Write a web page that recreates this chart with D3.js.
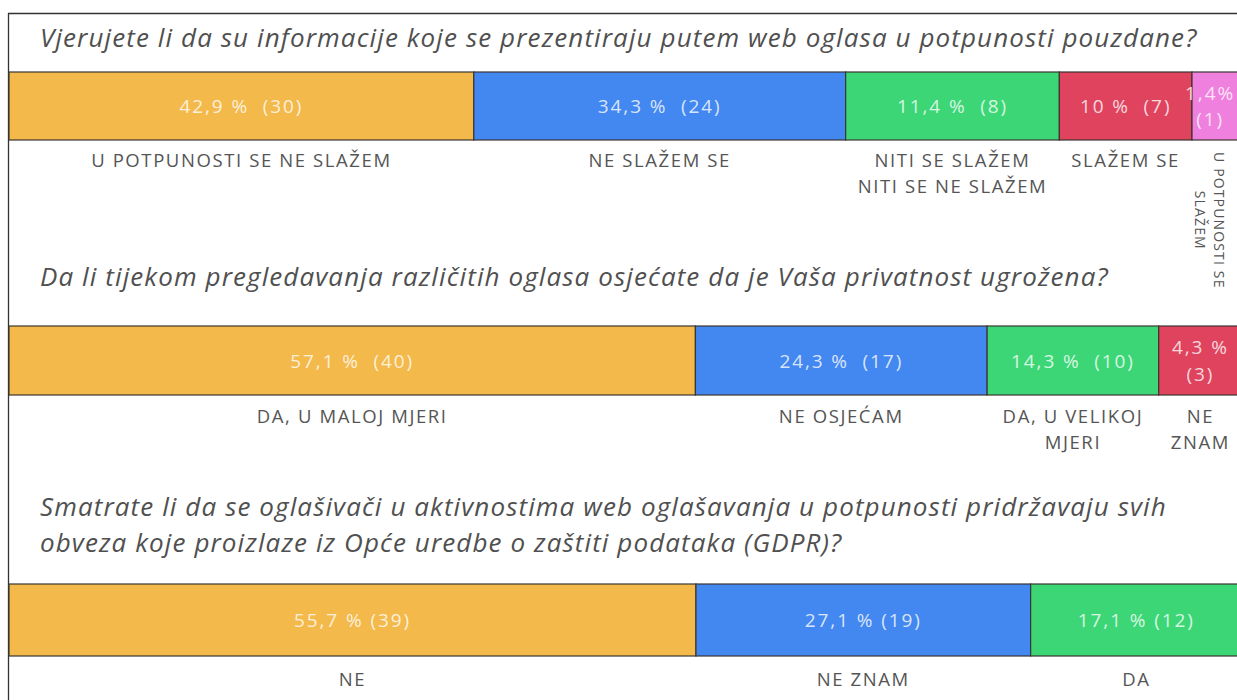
<!DOCTYPE html>
<html><head><meta charset="utf-8">
<script src="https://cdn.jsdelivr.net/npm/d3@7"></script>
<style>
html,body{margin:0;padding:0;background:#fff;overflow:hidden;}
svg{display:block;}
</style></head><body>
<svg id="chart" width="1237" height="700"></svg>
<script>
// ---------- DATA ----------
const q1Title = ["Vjerujete li da su informacije koje se prezentiraju putem web oglasa u potpunosti pouzdane?"];
const q1Categories = ["U POTPUNOSTI SE NE SLAŽEM", "NE SLAŽEM SE", "NITI SE SLAŽEM\nNITI SE NE SLAŽEM", "SLAŽEM SE", "U POTPUNOSTI SE\nSLAŽEM"];
const q1Percent = [42.9, 34.3, 11.4, 10, 1.4];
const q1Counts = [30, 24, 8, 7, 1];

const q2Title = ["Da li tijekom pregledavanja različitih oglasa osjećate da je Vaša privatnost ugrožena?"];
const q2Categories = ["DA, U MALOJ MJERI", "NE OSJEĆAM", "DA, U VELIKOJ\nMJERI", "NE\nZNAM"];
const q2Percent = [57.1, 24.3, 14.3, 4.3];
const q2Counts = [40, 17, 10, 3];

const q3Title = ["Smatrate li da se oglašivači u aktivnostima web oglašavanja u potpunosti pridržavaju svih", "obveza koje proizlaze iz Opće uredbe o zaštiti podataka (GDPR)?"];
const q3Categories = ["NE", "NE ZNAM", "DA"];
const q3Percent = [55.7, 27.1, 17.1];
const q3Counts = [39, 19, 12];

const palette = ["#F3B94B", "#4387F0", "#3CD677", "#E0435E", "#EF80DD"];

// ---------- LAYOUT ----------
const W = 1237, H = 700;
const left = 9, right = 1242;
const FONT = "'Open Sans', 'Noto Sans', sans-serif";
const svg = d3.select("#chart");

const panels = [
  {title: q1Title, cats: q1Categories, pct: q1Percent, cnt: q1Counts, titleY: 47, barTop: 72, barBottom: 140, labelY: 167, sep: "  "},
  {title: q2Title, cats: q2Categories, pct: q2Percent, cnt: q2Counts, titleY: 286, barTop: 326, barBottom: 395, labelY: 423, sep: "  "},
  {title: q3Title, cats: q3Categories, pct: q3Percent, cnt: q3Counts, titleY: 516, barTop: 584, barBottom: 656, labelY: 686, sep: " "}
];

const fmt = v => d3.format(".1~f")(v).replace(".", ",");

// frame lines
svg.append("line").attr("x1", 8).attr("x2", W).attr("y1", 13.5).attr("y2", 13.5)
  .attr("stroke", "#333").attr("stroke-width", 1.3);
svg.append("line").attr("x1", 8.5).attr("x2", 8.5).attr("y1", 13).attr("y2", H)
  .attr("stroke", "#333").attr("stroke-width", 1.3);

const measurer = svg.append("text").attr("visibility", "hidden").style("white-space", "pre");
function textWidth(str, size, spacing) {
  measurer.attr("font-family", FONT).attr("font-size", size)
    .attr("letter-spacing", spacing || 0).text(str);
  return measurer.node().getComputedTextLength();
}

const T_SIZE = 26, T_SP = 1.1, T_LH = 36;            // titles
const V_SIZE = 19, V_SP = 1.9, V_LH = 26.5;          // value labels
const C_SIZE = 18.5, C_SP = 1.6, C_LH = 25.5;        // category labels
const R_SIZE = 14, R_SP = 1.15, R_LH = 19.5;         // rotated labels
const PAD = 24;

panels.forEach(p => {
  const g = svg.append("g");
  // title lines
  p.title.forEach((t, i) => {
    g.append("text")
      .attr("x", 40).attr("y", p.titleY + i * T_LH)
      .attr("font-family", FONT).attr("font-style", "italic").attr("font-size", T_SIZE)
      .attr("letter-spacing", T_SP)
      .attr("fill", "#505050")
      .text(t);
  });

  const total = d3.sum(p.cnt);
  const x = d3.scaleLinear().domain([0, total]).range([left, right]);
  const starts = d3.cumsum([0].concat(p.cnt.slice(0, -1)));

  // proportional widths from the scale, then widen segments whose label would not fit
  const segs = p.cnt.map((c, i) => {
    const w = x(starts[i] + c) - x(starts[i]);
    const lines = p.cats[i].split("\n");
    const maxW = d3.max(lines, l => textWidth(l, C_SIZE, C_SP));
    const rotated = maxW > 2 * w;
    const minW = rotated ? lines.length * 16 + 18 : maxW + PAD;
    return {c, i, pct: p.pct[i], lines, maxW, rotated, w, minW};
  });
  const deficit = d3.sum(segs.filter(s => s.w < s.minW), s => s.minW - s.w);
  const donorTotal = d3.sum(segs.filter(s => s.w >= s.minW), s => s.w);
  segs.forEach(s => {
    s.fw = s.w < s.minW ? s.minW : s.w - deficit * s.w / donorTotal;
  });
  let acc = left;
  segs.forEach(s => { s.x0 = acc; acc += s.fw; s.x1 = acc; });

  // bars
  g.selectAll("rect.seg").data(segs).join("rect")
    .attr("class", "seg")
    .attr("x", d => d.x0).attr("width", d => d.x1 - d.x0)
    .attr("y", p.barTop).attr("height", p.barBottom - p.barTop)
    .attr("fill", d => palette[d.i])
    .attr("stroke", "#3b3530").attr("stroke-width", 1.2);

  // value labels
  segs.forEach(d => {
    const w = d.x1 - d.x0;
    const pctStr = fmt(d.pct) + (w < 60 ? "%" : " %");
    const full = pctStr + p.sep + "(" + d.c + ")";
    const fits = textWidth(full, V_SIZE, V_SP) + 12 < w;
    const lines = fits ? [full] : [pctStr, "(" + d.c + ")"];
    const maxW = d3.max(lines, l => textWidth(l, V_SIZE, V_SP));
    let cx = (d.x0 + d.x1) / 2;
    cx = Math.min(cx, W - maxW / 2 - 2);
    const cy = (p.barTop + p.barBottom) / 2;
    lines.forEach((l, i) => {
      g.append("text")
        .attr("x", cx)
        .attr("y", cy + 7 + (i - (lines.length - 1) / 2) * V_LH)
        .attr("font-family", FONT).attr("font-size", V_SIZE).attr("letter-spacing", V_SP)
        .attr("fill", "rgba(255,255,255,0.8)")
        .attr("text-anchor", "middle")
        .style("white-space", "pre")
        .text(l);
    });
  });

  // category labels
  segs.forEach(d => {
    let cx = (d.x0 + d.x1) / 2;
    if (d.rotated) {
      const len = d3.max(d.lines, l => textWidth(l, R_SIZE, R_SP));
      cx = Math.min(cx, W - (d.lines.length * R_LH) / 2 - 8);
      const cy = p.labelY - 15 + len / 2;
      d.lines.forEach((l, i) => {
        g.append("text")
          .attr("transform", `translate(${cx},${cy}) rotate(90)`)
          .attr("x", 0)
          .attr("y", 5 + (i - (d.lines.length - 1) / 2) * R_LH)
          .attr("font-family", FONT).attr("font-size", R_SIZE).attr("letter-spacing", R_SP)
          .attr("fill", "#555").attr("text-anchor", "middle")
          .text(l);
      });
    } else {
      cx = Math.min(cx, W - d.maxW / 2 - 4);
      d.lines.forEach((l, i) => {
        g.append("text")
          .attr("x", cx)
          .attr("y", p.labelY + i * C_LH)
          .attr("font-family", FONT).attr("font-size", C_SIZE).attr("letter-spacing", C_SP)
          .attr("fill", "#555").attr("text-anchor", "middle")
          .text(l);
      });
    }
  });
});
measurer.remove();
</script>
</body></html>
